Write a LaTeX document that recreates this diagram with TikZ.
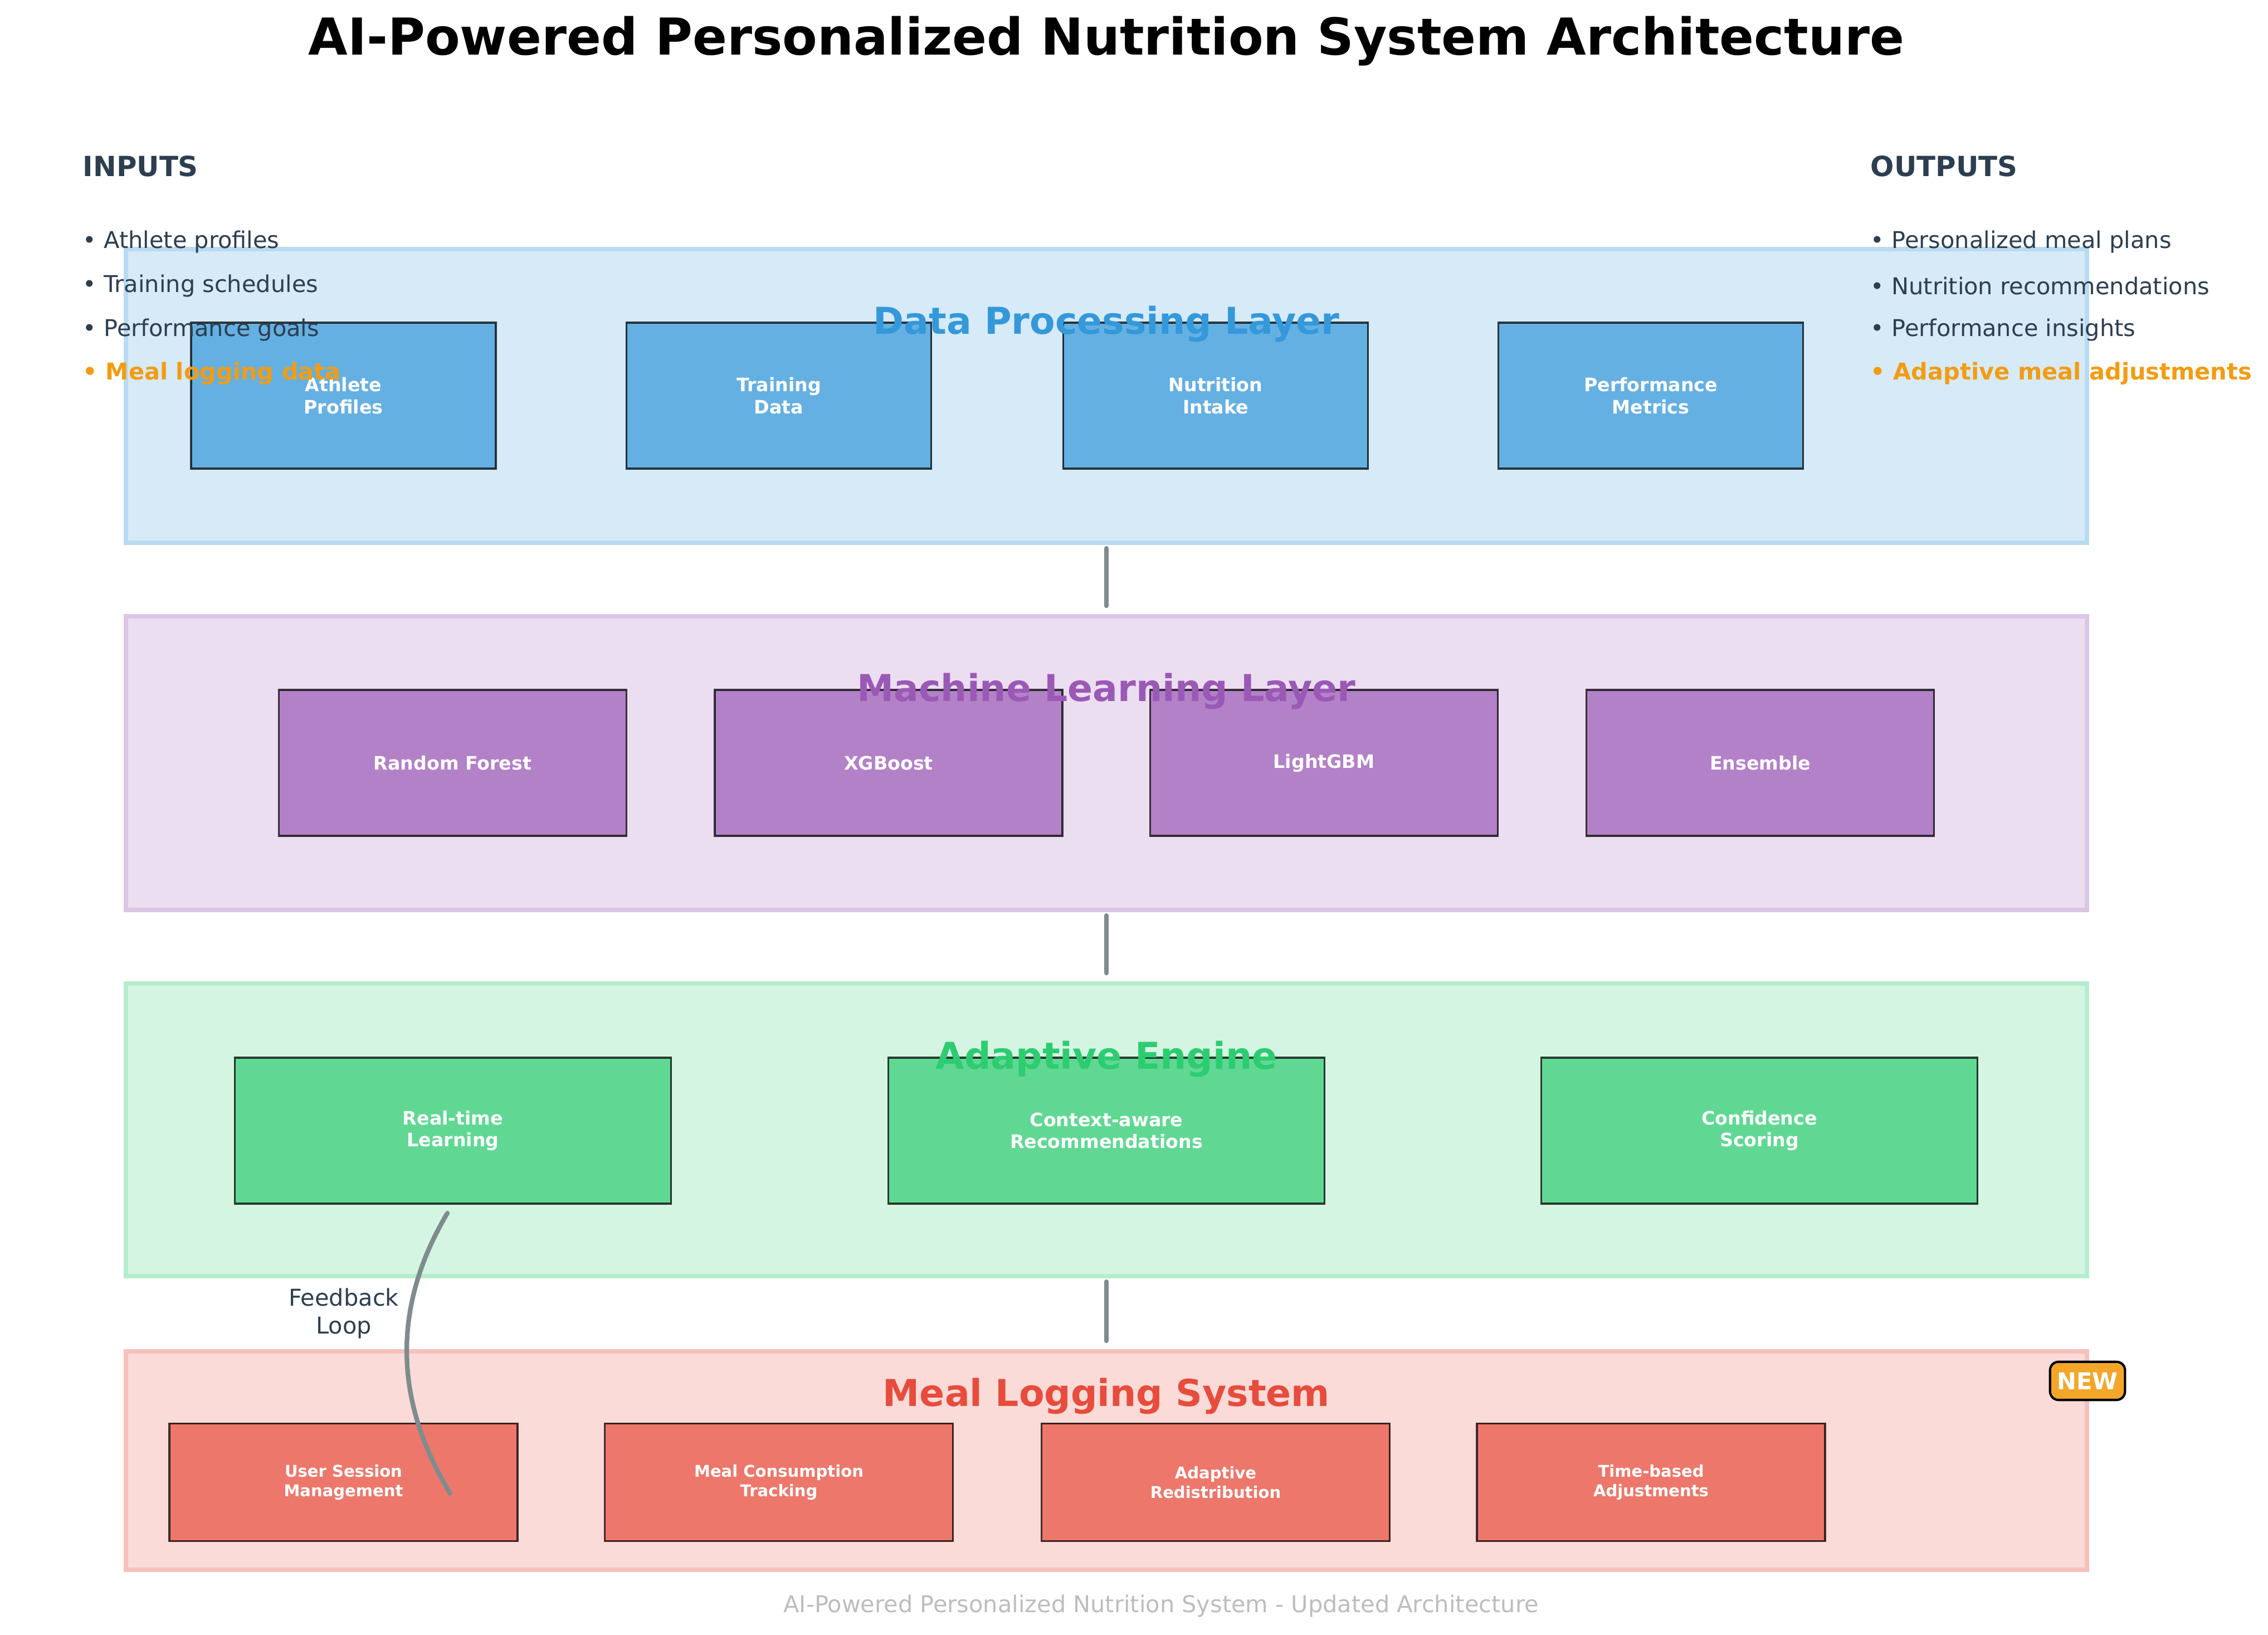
\documentclass[tikz,border=0pt]{standalone}
\usepackage{fontspec}
\setmainfont{DejaVu Sans}
\usetikzlibrary{positioning, calc}
\usepackage{xcolor}
\definecolor{nutblue}{HTML}{3498DB}
\definecolor{nutpurple}{HTML}{9B59B6}
\definecolor{nutgreen}{HTML}{2ECC71}
\definecolor{nutred}{HTML}{E74C3C}
\definecolor{nutorange}{HTML}{F39C12}
\definecolor{nutdark}{HTML}{2C3E50}
\definecolor{nutgray}{HTML}{7F8C8D}
\definecolor{nutfoot}{HTML}{BDBDBD}
% pale layer fills and stronger unit fills
\definecolor{bluebg}{HTML}{D6EAF8}
\definecolor{purplebg}{HTML}{EBDEF0}
\definecolor{greenbg}{HTML}{D5F5E3}
\definecolor{redbg}{HTML}{FADBD8}
\definecolor{blueunit}{HTML}{65B0E2}
\definecolor{purpleunit}{HTML}{B381C7}
\definecolor{greenunit}{HTML}{60D893}
\definecolor{redunit}{HTML}{ED776B}
\definecolor{badge}{HTML}{F4A62A}

\tikzset{
  layerbox/.style={rectangle, line width=2pt, outer sep=0pt, inner sep=0pt},
  layertitle/.style={font=\bfseries\fontsize{16}{19}\selectfont},
  unitbox/.style={rectangle, draw=black, draw opacity=0.75, line width=0.9pt,
    inner sep=0pt, align=center, text=white,
    font=\bfseries\fontsize{8}{9.6}\selectfont},
  listhead/.style={anchor=west, inner sep=0pt, text=nutdark, font=\bfseries\fontsize{12}{14}\selectfont},
  listitem/.style={anchor=west, inner sep=0pt, text=nutdark, font=\fontsize{10}{12}\selectfont},
  listnew/.style={anchor=west, inner sep=0pt, text=nutorange, font=\bfseries\fontsize{10}{12}\selectfont},
  link/.style={nutgray, line width=2pt, line cap=round}
}

\begin{document}
\begin{tikzpicture}[x=0.8467cm, y=0.8467cm]
  \useasboundingbox (0,0) rectangle (40.71,29.34);

  \node[font=\bfseries\fontsize{22}{26}\selectfont] (title) at (19.86,28.60)
    {AI-Powered Personalized Nutrition System Architecture};

  % Data Processing Layer
  \node[layerbox, draw=nutblue!35, fill=bluebg, minimum width=29.80cm, minimum height=4.462cm] (dpl) at (19.86,22.235) {};
  \node[unitbox, fill=blueunit, minimum width=4.632cm, minimum height=2.218cm] (athlete) at (6.165,22.24) {Athlete\\Profiles};
  \node[unitbox, fill=blueunit, minimum width=4.632cm, minimum height=2.218cm] (training) at (13.98,22.24) {Training\\Data};
  \node[unitbox, fill=blueunit, minimum width=4.632cm, minimum height=2.218cm] (intake) at (21.82,22.24) {Nutrition\\Intake};
  \node[unitbox, fill=blueunit, minimum width=4.632cm, minimum height=2.218cm] (metrics) at (29.63,22.24) {Performance\\Metrics};
  \node[layertitle, nutblue] (dpltitle) at (19.86,23.53) {Data Processing Layer};

  % Machine Learning Layer
  \node[layerbox, draw=nutpurple!35, fill=purplebg, minimum width=29.80cm, minimum height=4.462cm] (mll) at (19.86,15.645) {};
  \node[unitbox, fill=purpleunit, minimum width=5.283cm, minimum height=2.218cm] (forest) at (8.125,15.65) {Random Forest};
  \node[unitbox, fill=purpleunit, minimum width=5.283cm, minimum height=2.218cm] (xgb) at (15.95,15.65) {XGBoost};
  \node[unitbox, fill=purpleunit, minimum width=5.283cm, minimum height=2.218cm] (lgbm) at (23.765,15.65) {LightGBM};
  \node[unitbox, fill=purpleunit, minimum width=5.283cm, minimum height=2.218cm] (ensemble) at (31.595,15.65) {Ensemble};
  \node[layertitle, nutpurple] (mlltitle) at (19.86,16.94) {Machine Learning Layer};

  % Adaptive Engine
  \node[layerbox, draw=nutgreen!35, fill=greenbg, minimum width=29.80cm, minimum height=4.445cm] (ael) at (19.86,9.065) {};
  \node[unitbox, fill=greenunit, minimum width=6.630cm, minimum height=2.218cm] (realtime) at (8.13,9.05) {Real-time\\Learning};
  \node[unitbox, fill=greenunit, minimum width=6.630cm, minimum height=2.218cm] (context) at (19.86,9.05) {Context-aware\\Recommendations};
  \node[unitbox, fill=greenunit, minimum width=6.630cm, minimum height=2.218cm] (confidence) at (31.58,9.05) {Confidence\\Scoring};
  \node[layertitle, nutgreen] (aeltitle) at (19.86,10.34) {Adaptive Engine};

  % Meal Logging System
  \node[layerbox, draw=nutred!35, fill=redbg, minimum width=29.80cm, minimum height=3.319cm] (mls) at (19.86,3.13) {};
  \node[unitbox, fill=redunit, minimum width=5.292cm, minimum height=1.787cm, font=\bfseries\fontsize{7}{8.4}\selectfont] (session) at (6.165,2.74) {User Session\\Management};
  \node[unitbox, fill=redunit, minimum width=5.292cm, minimum height=1.787cm, font=\bfseries\fontsize{7}{8.4}\selectfont] (tracking) at (13.98,2.74) {Meal Consumption\\Tracking};
  \node[unitbox, fill=redunit, minimum width=5.292cm, minimum height=1.787cm, font=\bfseries\fontsize{7}{8.4}\selectfont] (redist) at (21.82,2.74) {Adaptive\\Redistribution};
  \node[unitbox, fill=redunit, minimum width=5.292cm, minimum height=1.787cm, font=\bfseries\fontsize{7}{8.4}\selectfont] (timebased) at (29.635,2.74) {Time-based\\Adjustments};
  \node[layertitle, nutred] (mlstitle) at (19.86,4.29) {Meal Logging System};
  \node[rectangle, rounded corners=0.13cm, draw=black, line width=1pt, fill=badge,
    minimum width=1.14cm, minimum height=0.58cm, inner sep=0pt,
    text=white, font=\bfseries\fontsize{10}{12}\selectfont] (newtag) at (37.47,4.56) {NEW};

  % links between layers
  \draw[link, shorten <=0.085cm, shorten >=0.16cm] (dpl.south) -- (mll.north);
  \draw[link, shorten <=0.085cm, shorten >=0.16cm] (mll.south) -- (ael.north);
  \draw[link, shorten <=0.085cm, shorten >=0.16cm] (ael.south) -- (mls.north);

  % Feedback loop
  \coordinate (fbtop) at (8.03,7.57);
  \coordinate (fbbot) at (8.08,2.54);
  \draw[link] (fbtop) .. controls (7.04,5.90) and (7.06,4.22) .. (fbbot);
  \node[align=center, text=nutdark, font=\fontsize{10}{12}\selectfont] (fblabel) at (6.17,5.77) {Feedback\\Loop};

  % Inputs
  \node[listhead] (inputs) at (1.48,26.36) {INPUTS};
  \node[listitem] (in1) at (1.48,25.00) {• Athlete profiles};
  \node[listitem] (in2) at (1.48,24.21) {• Training schedules};
  \node[listitem] (in3) at (1.48,23.42) {• Performance goals};
  \node[listnew] (in4) at (1.48,22.64) {• Meal logging data};

  % Outputs
  \node[listhead] (outputs) at (33.57,26.36) {OUTPUTS};
  \node[listitem] (out1) at (33.57,25.00) {• Personalized meal plans};
  \node[listitem] (out2) at (33.57,24.21) {• Nutrition recommendations};
  \node[listitem] (out3) at (33.57,23.42) {• Performance insights};
  \node[listnew] (out4) at (33.57,22.64) {• Adaptive meal adjustments};

  \node[text=nutfoot, font=\fontsize{10}{12}\selectfont] (footer) at (20.84,0.52)
    {AI-Powered Personalized Nutrition System - Updated Architecture};
\end{tikzpicture}
\end{document}
